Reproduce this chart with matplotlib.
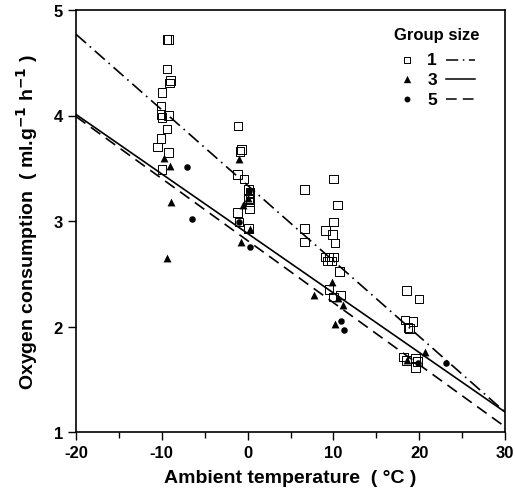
import matplotlib
matplotlib.use("Agg")
import matplotlib.pyplot as plt
import numpy as np

plt.rcParams['font.family'] = ['Liberation Sans', 'DejaVu Sans']

# Group size 1 (open squares)
t1 = [-9.4, -9.2, -9.4, -9.1, -9.0, -10.0, -10.1, -10.1, -10.0, -9.2, -9.4, -10.1, -10.5, -9.2, -10.0,
      -1.1, -0.7, -0.9, -1.15, -0.4, 0.1, 0.3, 0.1, 0.3, 0.2, -1.15, -1.0, 0.1,
      10.0, 6.6, 10.5, 10.0, 9.1, 9.9, 10.2, 6.6, 6.6, 9.0, 9.5, 10.0, 9.3, 9.8, 10.7, 9.5, 10.8, 10.0,
      18.5, 20.0, 18.35, 19.3, 18.7, 18.85, 18.2, 18.5, 19.6, 19.8, 19.6]
v1 = [4.72, 4.72, 4.44, 4.31, 4.33, 4.22, 4.09, 4.01, 3.98, 4.00, 3.87, 3.78, 3.70, 3.65, 3.49,
      3.90, 3.68, 3.66, 3.44, 3.40, 3.30, 3.27, 3.21, 3.18, 3.12, 3.08, 2.99, 2.93,
      3.40, 3.30, 3.15, 2.99, 2.91, 2.87, 2.79, 2.93, 2.80, 2.66, 2.66, 2.66, 2.62, 2.62, 2.52, 2.35, 2.30, 2.28,
      2.34, 2.26, 2.06, 2.05, 1.99, 1.98, 1.71, 1.68, 1.70, 1.67, 1.61]

# Group size 3 (filled triangles)
t3 = [-9.7, -9.0, -8.9, -9.4, -1.0, -0.5, 0.3, -0.8, 0.0, 9.8, 7.7, 11.1, 10.2, 10.5, 20.7, 18.6]
v3 = [3.60, 3.52, 3.18, 2.65, 3.59, 3.15, 2.92, 2.80, 3.22, 2.42, 2.30, 2.20, 2.02, 2.27, 1.76, 1.68]

# Group size 5 (filled circles)
t5 = [-7.1, -6.5, -1.0, 0.3, 0.2, 10.85, 11.2, 19.9, 23.1]
v5 = [3.51, 3.02, 2.99, 2.75, 3.28, 2.05, 1.97, 1.65, 1.65]

# Regression lines (values at x = -20 and x = 30)
line_x = [-20, 30]
line1 = [4.77, 1.19]
line3 = [4.01, 1.19]
line5 = [3.99, 1.05]

xticks = [-20, -10, 0, 10, 20, 30]
yticks = [1, 2, 3, 4, 5]
group_labels = ['1', '3', '5']

fig = plt.figure(figsize=(5.15, 5.02), dpi=100)
ax = fig.add_axes([76/515, 1-433/502, 429/515, 422/502])

ls1 = (0, (8, 3, 1, 3))
ls3 = '-'
ls5 = (0, (7, 4))

ax.plot(line_x, line1, color='black', lw=1.2, ls=ls1, zorder=2)
ax.plot(line_x, line3, color='black', lw=1.2, ls=ls3, zorder=2)
ax.plot(line_x, line5, color='black', lw=1.2, ls=ls5, zorder=2)

ax.scatter(t3, v3, marker='^', s=32, color='black', zorder=3, linewidths=0)
ax.scatter(t5, v5, marker='o', s=22, color='black', zorder=3, linewidths=0)
ax.scatter(t1, v1, marker='s', s=38, facecolors='none', edgecolors='black', linewidths=0.7, zorder=4)

ax.set_xlim(-20, 30)
ax.set_ylim(1, 5)
ax.set_xticks(xticks)
ax.set_xticks(np.arange(-15, 30, 10), minor=True)
ax.set_yticks(yticks)
ax.set_xticklabels([str(t) for t in xticks], fontsize=12, fontweight='bold')
ax.set_yticklabels([str(t) for t in yticks], fontsize=12, fontweight='bold')
ax.tick_params(direction='out', length=6, width=1)
ax.tick_params(which='minor', direction='out', length=4, width=1)
for sp in ax.spines.values():
    sp.set_linewidth(1.2)

ax.set_xlabel('Ambient temperature  ( °C )', fontsize=14, fontweight='bold', labelpad=6)
ax.set_ylabel(r'Oxygen consumption  ( ml.g$^{\mathbf{-1}}$ h$^{\mathbf{-1}}$ )',
              fontsize=14, fontweight='bold', labelpad=10)

# Legend drawn in axes coordinates
tr = ax.transAxes
ax.text(0.841, 0.943, 'Group size', transform=tr, ha='center', va='center',
        fontsize=12, fontweight='bold')
rows_y = [0.882, 0.836, 0.789]
markers = [('s', 18, 'none'), ('^', 28, 'black'), ('o', 18, 'black')]
styles = [ls1, ls3, ls5]
for yy, (m, s, fc), lab, st in zip(rows_y, markers, group_labels, styles):
    if fc == 'none':
        ax.scatter([0.772], [yy], marker=m, s=s, facecolors='none', edgecolors='black',
                   linewidths=0.7, transform=tr, clip_on=False, zorder=5)
    else:
        ax.scatter([0.772], [yy], marker=m, s=s, color='black', linewidths=0,
                   transform=tr, clip_on=False, zorder=5)
    ax.text(0.830, yy, lab, transform=tr, ha='center', va='center',
            fontsize=12.5, fontweight='bold')
    ax.plot([0.862, 0.930], [yy, yy], transform=tr, color='black', lw=1.1, ls=st)

fig.savefig('out.png', dpi=100)
